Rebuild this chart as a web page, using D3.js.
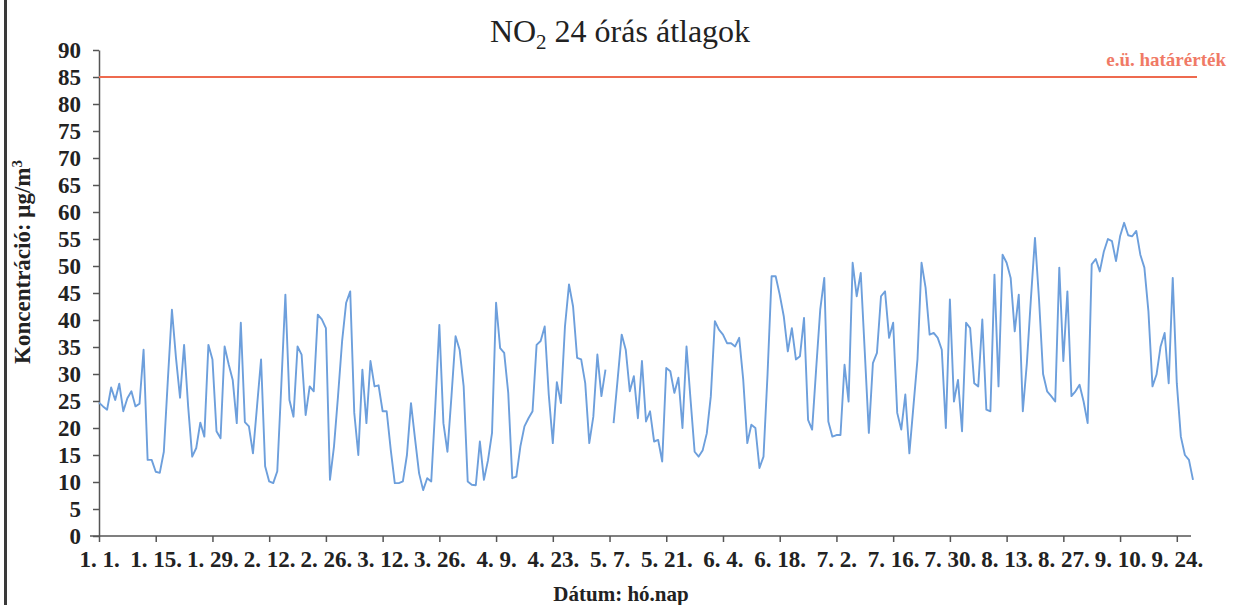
<!DOCTYPE html>
<html>
<head>
<meta charset="utf-8">
<script src="https://cdn.jsdelivr.net/npm/d3@7"></script>
<style>
  body { margin: 0; background: #fff; }
  svg text { font-family: "Liberation Serif", "DejaVu Serif", serif; fill: #222; }
</style>
</head>
<body>
<div id="chart"></div>
<script>
// daily NO2 averages, one value per day from 1. 1. onwards
var jan = [24.7, 24.0, 23.4, 27.5, 25.2, 28.2, 23.1, 25.5, 26.8, 24.0, 24.5, 34.5, 14.1, 14.1, 11.9, 11.7,
           15.6, 29, 41.9, 33, 25.6, 35.4, 24, 14.7, 16.3, 21.0, 18.4, 35.4, 32.7, 19.4, 18.1];
var feb = [35.1, 31.8, 28.9, 20.9, 39.5, 21.1, 20.3, 15.3, 24, 32.7, 12.9, 10.1, 9.8, 12, 28, 44.7,
           25.2, 22.1, 35.1, 33.6, 22.4, 27.7, 26.8, 41.0, 40.1, 38.5, 10.4, 16.6];
var mar = [26, 36.1, 43.2, 45.3, 22.8, 15.0, 30.8, 20.9, 32.4, 27.7, 27.9, 23.1, 23.1, 16, 9.8, 9.8,
           10.1, 15, 24.6, 18, 11.6, 8.5, 10.7, 10.1, 24, 39.1, 20.9, 15.6, 26, 37.0, 34.5];
var apr = [27.7, 10.1, 9.5, 9.4, 17.5, 10.4, 14, 19.1, 43.2, 34.8, 33.9, 26.5, 10.7, 11.0, 16.6, 20.3,
           21.8, 23.1, 35.4, 36.1, 38.8, 26.2, 17.2, 28.5, 24.6, 38.8, 46.6, 42.5, 33.0, 32.7];
var may = [28.3, 17.2, 22.1, 33.6, 25.9, 30.8, null, 20.9, 29, 37.3, 34.5, 26.8, 29.6, 21.8, 32.4, 21.2,
           23.1, 17.5, 17.8, 13.8, 31.1, 30.5, 26.5, 29.3, 20.0, 35.1, 25.2, 15.6, 14.7, 15.9, 19];
var jun = [25.9, 39.8, 38.2, 37.3, 35.7, 35.7, 35.1, 36.7, 28.9, 17.2, 20.6, 20.0, 12.6, 14.7, 30, 48.1,
           48.1, 44.7, 40.7, 34.2, 38.5, 32.7, 33.3, 40.4, 21.5, 19.7, 31, 41.9, 47.8, 21.2];
var jul = [18.4, 18.7, 18.7, 31.7, 24.9, 50.6, 44.4, 48.7, 34, 19.1, 32.0, 33.9, 44.4, 45.3, 36.7, 39.5,
           22.8, 19.7, 26.2, 15.3, 24, 32.7, 50.6, 46.0, 37.3, 37.6, 36.7, 34.5, 20.0, 43.8, 24.9];
var aug = [28.9, 19.4, 39.5, 38.5, 28.3, 27.7, 40.1, 23.4, 23.1, 48.4, 27.7, 52.1, 50.6, 47.8, 37.9, 44.7,
           23.1, 32.0, 44, 55.2, 43.8, 30, 26.8, 25.9, 24.9, 49.7, 32.4, 45.3, 25.9, 26.8, 28.0];
var sep = [24.9, 20.9, 50.3, 51.3, 49.0, 52.7, 55.0, 54.6, 50.9, 55.5, 58.0, 55.7, 55.5, 56.5, 52.1, 49.7,
           41.6, 27.7, 29.9, 35.1, 37.6, 28.3, 47.8, 28.3, 18.4, 15.0, 14.1, 10.4];

var no2 = [].concat(jan, feb, mar, apr, may, jun, jul, aug, sep);

var tickLabels = ["1. 1.", "1. 15.", "1. 29.", "2. 12.", "2. 26.", "3. 12.", "3. 26.", "4. 9.", "4. 23.",
                  "5. 7.", "5. 21.", "6. 4.", "6. 18.", "7. 2.", "7. 16.", "7. 30.", "8. 13.", "8. 27.",
                  "9. 10.", "9. 24."];
var tickStep = 14;
var yTicks = d3.range(0, 91, 5);
var limitValue = 85;
var limitLabel = "e.ü. határérték";

var width = 1233;
var height = 605;
var serif = "'Liberation Serif', 'DejaVu Serif', serif";

var svg = d3.select("#chart").append("svg")
            .attr("width", width)
            .attr("height", height);

// scan frame on the left edge
svg.append("rect").attr("x", 4).attr("y", 0).attr("width", 3).attr("height", height).attr("fill", "#3a3a3a");

var x = d3.scaleLinear().domain([0, no2.length - 1]).range([99, 1193]);
var y = d3.scaleLinear().domain([0, 90]).range([536, 50]);

/* y axis */
var yAxis = svg.append("g")
  .attr("transform", "translate(99,0)")
  .call(d3.axisLeft(y).tickValues(yTicks).tickSize(6).tickPadding(12).tickSizeOuter(0));
yAxis.select(".domain").attr("stroke", "#555").attr("stroke-width", 1.5);
yAxis.selectAll(".tick line").attr("stroke", "#555").attr("stroke-width", 1.5);
yAxis.selectAll(".tick text")
  .attr("font-size", 23).attr("font-weight", "bold")
  .style("font-family", serif).attr("fill", "#222");

/* x axis */
var xAxis = svg.append("g")
  .attr("transform", "translate(0,536)")
  .call(d3.axisBottom(x)
    .tickValues(tickLabels.map(function(d, i) { return i * tickStep; }))
    .tickFormat(function(d, i) { return tickLabels[i]; })
    .tickSize(6).tickPadding(9).tickSizeOuter(0));
xAxis.select(".domain").remove();
xAxis.selectAll(".tick line").attr("stroke", "#555").attr("stroke-width", 1.5);
xAxis.selectAll(".tick text")
  .attr("font-size", 23).attr("font-weight", "bold")
  .style("font-family", serif).attr("fill", "#222");
svg.append("line")
  .attr("x1", 90).attr("x2", 1191)
  .attr("y1", 536).attr("y2", 536)
  .attr("stroke", "#555").attr("stroke-width", 1.5);

/* limit line */
svg.append("line")
  .attr("x1", x(0)).attr("x2", 1197)
  .attr("y1", y(limitValue)).attr("y2", y(limitValue))
  .attr("stroke", "#ee6a4f").attr("stroke-width", 2.2);
svg.append("text")
  .attr("x", 1226).attr("y", 66)
  .attr("text-anchor", "end")
  .attr("font-size", 19).attr("font-weight", "bold")
  .style("fill", "#f07a66")
  .text(limitLabel);

/* data line */
var line = d3.line()
  .defined(function(d) { return d != null; })
  .x(function(d, i) { return x(i); })
  .y(function(d) { return y(d); });

svg.append("path")
  .datum(no2)
  .attr("d", line)
  .attr("fill", "none")
  .attr("stroke", "#6d9fdc")
  .attr("stroke-width", 1.9)
  .attr("stroke-linejoin", "round");

/* titles */
var title = svg.append("text")
  .attr("x", 620).attr("y", 42)
  .attr("text-anchor", "middle")
  .attr("font-size", 32);
title.append("tspan").text("NO");
title.append("tspan").attr("font-size", 21).attr("dy", 7).text("2");
title.append("tspan").attr("dy", -7).text(" 24 órás átlagok");

var yTitle = svg.append("text")
  .attr("transform", "translate(30,262) rotate(-90)")
  .attr("text-anchor", "middle")
  .attr("font-size", 23).attr("font-weight", "bold");
yTitle.append("tspan").text("Koncentráció: μg/m");
yTitle.append("tspan").attr("font-size", 15).attr("dy", -8).text("3");

svg.append("text")
  .attr("x", 621).attr("y", 601)
  .attr("text-anchor", "middle")
  .attr("font-size", 21).attr("font-weight", "bold")
  .text("Dátum: hó.nap");
</script>
</body>
</html>
